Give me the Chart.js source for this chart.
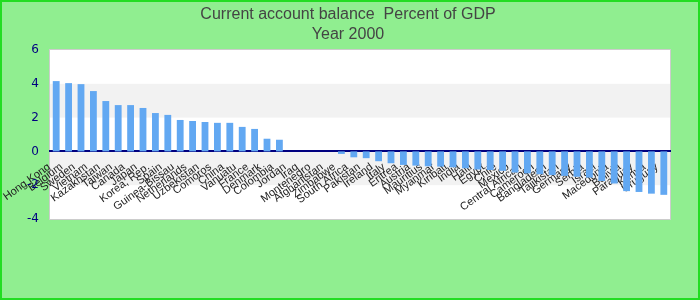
<!DOCTYPE html>
<html>
<head>
<meta charset="utf-8">
<script src="https://cdn.jsdelivr.net/npm/chart.js@4/dist/chart.umd.min.js"></script>
<style>
  html, body { margin: 0; padding: 0; background: #90ee90; }
  canvas { display: block; }
</style>
</head>
<body>
<canvas id="myChart" width="700" height="300"></canvas>
<script>
// pays (axe des abscisses)
const countries = [
  'Hong Kong', 'Belgium', 'Sweden', 'Vietnam', 'Kazakhstan', 'Taiwan', 'Canada', 'Japan',
  'Korea, Rep.', 'Spain', 'Guinea-Bissau', 'Netherlands', 'Uzbekistan', 'Comoros', 'China',
  'Vanuatu', 'France', 'Denmark', 'Colombia', 'Jordan', 'Iraq', 'Montenegro', 'Afghanistan',
  'Zimbabwe', 'South Africa', 'Pakistan', 'Ireland', 'Italy', 'Eritrea', 'Austria',
  'Mauritius', 'Myanmar', 'Kiribati', 'India', 'Haiti', 'Egypt', 'Chile', 'Mexico',
  'Central African', 'Cameroon', 'Bangladesh', 'Tajikistan', 'Germany', 'Serbia',
  'Israel', 'Macedonia', 'Bolivia', 'Paraguay', 'Kenya', 'Uruguay'
];

// solde courant en % du PIB
const balance = [
  4.16, 4.04, 3.98, 3.57, 2.98, 2.74, 2.74, 2.57,
  2.27, 2.16, 1.86, 1.80, 1.74, 1.69, 1.69,
  1.45, 1.33, 0.75, 0.69, 0, 0, 0, 0,
  -0.15, -0.35, -0.4, -0.58, -0.7, -0.8, -0.84,
  -0.88, -0.9, -0.94, -1.0, -1.07, -1.1, -1.15, -1.25,
  -1.3, -1.35, -1.4, -1.45, -1.5, -1.55,
  -1.75, -1.9, -2.35, -2.4, -2.5, -2.57
];

const yTicks = [-4, -2, 0, 2, 4, 6];
const bands = [[2, 4], [-2, 0]];

// fond vert, zone blanche et bandes grises
const backdrop = {
  id: 'backdrop',
  beforeDraw(chart) {
    const {ctx, chartArea: a, scales: {y}} = chart;
    ctx.save();
    ctx.fillStyle = '#90ee90';
    ctx.fillRect(0, 0, chart.width, chart.height);
    ctx.fillStyle = '#ffffff';
    ctx.fillRect(a.left, a.top, a.width, a.height);
    ctx.fillStyle = '#f2f2f2';
    bands.forEach(([lo, hi]) => {
      const top = y.getPixelForValue(hi);
      const bot = y.getPixelForValue(lo);
      ctx.fillRect(a.left, top, a.width, bot - top);
    });
    ctx.strokeStyle = '#cccccc';
    ctx.lineWidth = 1;
    ctx.strokeRect(a.left - 0.5, a.top - 0.5, a.width + 1, a.height + 1);
    ctx.strokeStyle = '#22dd22';
    ctx.lineWidth = 2;
    ctx.strokeRect(1, 1, chart.width - 2, chart.height - 2);
    ctx.restore();
  }
};

new Chart('myChart', {
  type: 'bar',
  data: {
    labels: countries,
    datasets: [{
      label: 'Current account balance',
      data: balance,
      backgroundColor: '#62a8f2',
      barPercentage: 0.55,
      categoryPercentage: 1
    }]
  },
  options: {
    responsive: false,
    animation: false,
    layout: { padding: { left: 0, right: 4, top: 0, bottom: 81 } },
    plugins: {
      legend: { display: false },
      tooltip: { enabled: false },
      title: {
        display: true,
        text: ['Current account balance  Percent of GDP', 'Year 2000'],
        color: '#444444',
        font: { family: 'Liberation Sans', size: 16, weight: 'normal', lineHeight: 1.25 },
        padding: { top: 5, bottom: 5 }
      }
    },
    scales: {
      x: {
        position: { y: 0 },
        grid: { display: false },
        border: { display: true, color: '#000080', width: 2 },
        ticks: {
          autoSkip: false,
          maxRotation: 36,
          minRotation: 36,
          labelOffset: -7,
          padding: 1,
          color: '#222222',
          font: { family: 'Liberation Sans', size: 11 }
        }
      },
      y: {
        min: -4,
        max: 6,
        grid: { display: false },
        border: { display: false },
        afterFit(scale) { scale.width = 50; },
        afterBuildTicks(scale) { scale.ticks = yTicks.map(v => ({ value: v })); },
        ticks: {
          color: '#000080',
          padding: 3,
          font: { family: 'DejaVu Sans', size: 12 }
        }
      },
      // marge droite vide
      y2: {
        position: 'right',
        grid: { display: false },
        border: { display: false },
        ticks: { display: false },
        afterFit(scale) { scale.width = 26; }
      }
    }
  },
  plugins: [backdrop]
});
</script>
</body>
</html>
